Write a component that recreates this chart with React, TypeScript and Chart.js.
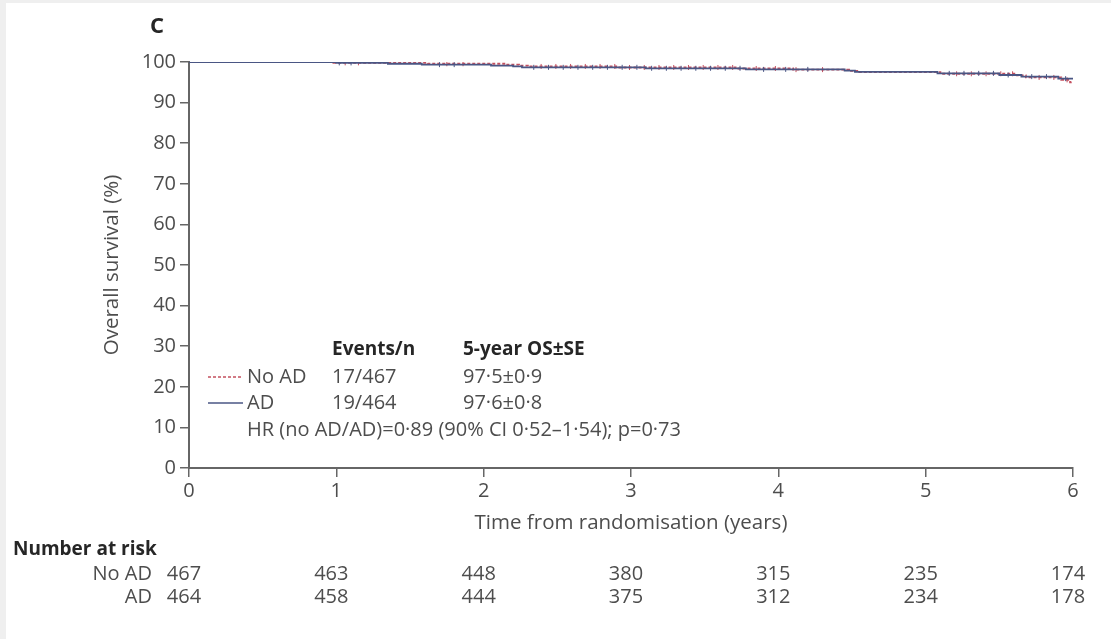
import React, { useEffect, useRef } from "react";
import { Chart, registerables } from "chart.js";

Chart.register(...registerables);

// ---- Data ----
const yearTicks = [0, 1, 2, 3, 4, 5, 6];
const survivalTicks = [0, 10, 20, 30, 40, 50, 60, 70, 80, 90, 100];

const adTimes = [0, 1.0, 1.35, 1.58, 2.05, 2.2, 2.26, 3.1, 3.78, 4.45, 4.52, 5.08, 5.5, 5.65, 5.9, 6.0];
const adSurv = [100, 99.78, 99.57, 99.35, 99.13, 98.91, 98.69, 98.45, 98.18, 97.88, 97.58, 97.2, 96.8, 96.4, 95.9, 95.9];

const noAdTimes = [0, 0.98, 1.62, 2.15, 2.24, 2.3, 2.9, 3.72, 4.1, 4.48, 4.55, 5.1, 5.62, 5.68, 5.92, 5.98, 6.0];
const noAdSurv = [100, 99.79, 99.57, 99.35, 99.13, 98.9, 98.65, 98.4, 98.12, 97.82, 97.5, 97.1, 96.7, 96.2, 95.6, 95.0, 95.0];

const adCensor = [1.02, 1.1, 1.7, 1.8, 2.34, 2.44, 2.54, 2.64, 2.74, 2.84, 2.94, 3.04, 3.14, 3.24, 3.34, 3.44, 3.54, 3.64, 3.74, 3.9, 4.05, 4.2, 5.16, 5.26, 5.36, 5.46, 5.56, 5.72, 5.82, 5.95];
const noAdCensor = [1.06, 1.15, 1.75, 1.86, 2.39, 2.49, 2.59, 2.69, 2.79, 2.89, 2.99, 3.09, 3.19, 3.29, 3.39, 3.49, 3.59, 3.69, 3.85, 3.98, 4.12, 4.3, 5.21, 5.31, 5.41, 5.51, 5.59, 5.77, 5.87, 5.96];

const groupLabels = ["No AD", "AD"];
const eventsN = ["17/467", "19/464"];
const fiveYearOS = ["97·5±0·9", "97·6±0·8"];
const legendHeaders = ["Events/n", "5-year OS±SE"];
const hrText = "HR (no AD/AD)=0·89 (90% CI 0·52–1·54); p=0·73";

const riskNoAd = [467, 463, 448, 380, 315, 235, 174];
const riskAd = [464, 458, 444, 375, 312, 234, 178];

const panelLetter = "C";
const xTitle = "Time from randomisation (years)";
const yTitle = "Overall survival (%)";
const riskTitle = "Number at risk";

// ---- Styles ----
const FONT = "'Open Sans', Lato, sans-serif";
const TEXT = "#4d4d4d";
const DARK = "#262626";
const AXIS = "#666666";
const AD_COLOR = "#4a5684";
const NOAD_COLOR = "#c4505f";

function stepAt(times: number[], surv: number[], t: number) {
  let v = surv[0];
  for (let i = 0; i < times.length; i++) {
    if (times[i] <= t) v = surv[i];
  }
  return v;
}

const overlayPlugin = {
  id: "overlay",
  beforeDraw(chart: any) {
    const { ctx, width, height } = chart;
    ctx.save();
    ctx.fillStyle = "#ffffff";
    ctx.fillRect(0, 0, width, height);
    ctx.fillStyle = "#efefef";
    ctx.fillRect(0, 0, 6, height);
    ctx.fillRect(0, 0, width, 3);
    ctx.restore();
  },
  afterDraw(chart: any) {
    const { ctx, chartArea } = chart;
    const xs = chart.scales.x;
    ctx.save();
    ctx.textBaseline = "middle";

    // panel letter
    ctx.fillStyle = DARK;
    ctx.font = `bold 22px ${FONT}`;
    ctx.textAlign = "left";
    ctx.fillText(panelLetter, 150, 27);

    // y title
    ctx.save();
    ctx.translate(112, (chartArea.top + chartArea.bottom) / 2);
    ctx.rotate(-Math.PI / 2);
    ctx.textAlign = "center";
    ctx.fillStyle = TEXT;
    ctx.font = `20.5px ${FONT}`;
    ctx.fillText(yTitle, 0, 0);
    ctx.restore();

    // x title
    ctx.textAlign = "center";
    ctx.fillStyle = TEXT;
    ctx.font = `20.5px ${FONT}`;
    ctx.fillText(xTitle, (chartArea.left + chartArea.right) / 2, 523);

    // legend
    const col1 = 332;
    const col2 = 463;
    const rowsY = [350, 377, 403, 430];
    ctx.textAlign = "left";
    ctx.fillStyle = DARK;
    ctx.font = `bold 19px ${FONT}`;
    ctx.fillText(legendHeaders[0], col1, rowsY[0]);
    ctx.fillText(legendHeaders[1], col2, rowsY[0]);

    ctx.font = `20px ${FONT}`;
    ctx.fillStyle = TEXT;
    for (let i = 0; i < 2; i++) {
      const y = rowsY[i + 1];
      ctx.save();
      ctx.strokeStyle = i === 0 ? NOAD_COLOR : AD_COLOR;
      ctx.lineWidth = 1.5;
      ctx.setLineDash(i === 0 ? [3, 2] : []);
      ctx.beginPath();
      ctx.moveTo(208, y);
      ctx.lineTo(243, y);
      ctx.stroke();
      ctx.restore();
      ctx.fillText(groupLabels[i], 247, y);
      ctx.fillText(eventsN[i], col1, y);
      ctx.fillText(fiveYearOS[i], col2, y);
    }
    ctx.fillText(hrText, 247, rowsY[3]);

    // risk table
    ctx.fillStyle = DARK;
    ctx.font = `bold 19px ${FONT}`;
    ctx.textAlign = "left";
    ctx.fillText(riskTitle, 13, 550);
    ctx.fillStyle = TEXT;
    ctx.font = `20px ${FONT}`;
    ctx.textAlign = "right";
    ctx.fillText(groupLabels[0], 152, 574);
    ctx.fillText(groupLabels[1], 152, 597);
    ctx.textAlign = "center";
    for (let i = 0; i < yearTicks.length; i++) {
      const px = xs.getPixelForValue(yearTicks[i]);
      ctx.fillText(String(riskNoAd[i]), px - 5, 574);
      ctx.fillText(String(riskAd[i]), px - 5, 597);
    }
    ctx.restore();
  },
};

export default function App() {
  const ref = useRef<HTMLCanvasElement | null>(null);

  useEffect(() => {
    if (!ref.current) return;
    const lineDs = (label: string, times: number[], surv: number[], color: string, dash: number[]) => ({
      label,
      data: times.map((t, i) => ({ x: t, y: surv[i] })),
      stepped: true,
      borderColor: color,
      borderWidth: 1.8,
      borderDash: dash,
      pointRadius: 0,
      fill: false,
    });
    const censorDs = (label: string, ct: number[], times: number[], surv: number[], color: string) => ({
      label,
      data: ct.map((t) => ({ x: t, y: stepAt(times, surv, t) })),
      showLine: false,
      pointStyle: "line",
      rotation: 90,
      pointRadius: 2.5,
      borderColor: color,
      borderWidth: 1,
      backgroundColor: color,
    });

    const chart = new Chart(ref.current, {
      type: "line",
      data: {
        datasets: [
          lineDs("AD", adTimes, adSurv, AD_COLOR, []),
          censorDs("AD censored", adCensor, adTimes, adSurv, AD_COLOR),
          lineDs("No AD", noAdTimes, noAdSurv, NOAD_COLOR, [3, 2]),
          censorDs("No AD censored", noAdCensor, noAdTimes, noAdSurv, NOAD_COLOR),
        ] as any,
      },
      options: {
        animation: false,
        responsive: false,
        maintainAspectRatio: false,
        events: [],
        layout: { padding: { left: 124, top: 62, right: 38, bottom: 131 } },
        plugins: { legend: { display: false }, tooltip: { enabled: false } },
        scales: {
          x: {
            type: "linear",
            min: 0,
            max: 6,
            afterBuildTicks: (s: any) => {
              s.ticks = yearTicks.map((v) => ({ value: v }));
            },
            afterFit: (s: any) => {
              s.height = 40;
            },
            ticks: { color: TEXT, font: { family: FONT, size: 20 }, padding: 2, maxRotation: 0 },
            grid: { drawOnChartArea: false, drawTicks: true, tickLength: 9, color: AXIS, lineWidth: 1.5 },
            border: { color: AXIS, width: 2 },
          },
          y: {
            type: "linear",
            min: 0,
            max: 100,
            afterBuildTicks: (s: any) => {
              s.ticks = survivalTicks.map((v) => ({ value: v }));
            },
            afterFit: (s: any) => {
              s.width = 65;
            },
            ticks: { color: TEXT, font: { family: FONT, size: 20 }, padding: 4 },
            grid: { drawOnChartArea: false, drawTicks: true, tickLength: 9, color: AXIS, lineWidth: 1.5 },
            border: { color: AXIS, width: 2 },
          },
        },
      } as any,
      plugins: [overlayPlugin],
    });
    return () => chart.destroy();
  }, []);

  return (
    <canvas
      ref={ref}
      width={1111}
      height={639}
      style={{ position: "absolute", left: 0, top: 0, width: 1111, height: 639 }}
    />
  );
}
